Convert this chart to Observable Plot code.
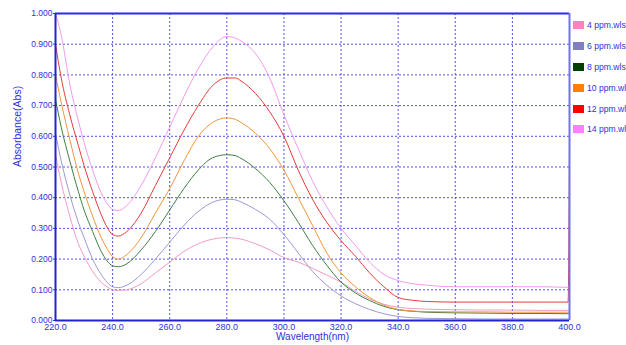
<!DOCTYPE html>
<html>
<head>
<meta charset="utf-8">
<script src="https://cdn.jsdelivr.net/npm/d3@7"></script>
<script src="https://cdn.jsdelivr.net/npm/@observablehq/plot@0.6"></script>
<style>
  html, body { margin: 0; padding: 0; background: #fff; overflow: hidden; }
  #wrap { position: relative; width: 626px; height: 345px; font-family: "Liberation Sans", Arial, sans-serif; }
  #legend { position: absolute; left: 573px; top: 15px; white-space: nowrap; }
  .item { display: flex; align-items: center; height: 20.8px; font-size: 8.6px; color: #3030e0; }
  .sw { width: 11px; height: 8px; margin-right: 3px; }
</style>
</head>
<body>
<div id="wrap"><div id="legend"></div></div>
<script>
// Wavelengths (nm)
const wavelength = [220,222,225,228,230,233,236,238,240,242,245,250,255,260,265,270,275,280,283,285,290,295,300,305,310,315,320,325,330,335,340,345,350,360,370,380,390,399.5,400];

// Absorbance series
const ppm4  = [0.54,0.45,0.34,0.25,0.21,0.16,0.125,0.11,0.10,0.098,0.10,0.12,0.155,0.19,0.225,0.25,0.265,0.27,0.268,0.265,0.25,0.23,0.205,0.19,0.17,0.148,0.125,0.095,0.07,0.053,0.043,0.039,0.037,0.035,0.034,0.034,0.033,0.033,0.033];
const ppm6  = [0.61,0.52,0.41,0.32,0.27,0.20,0.15,0.125,0.11,0.107,0.115,0.15,0.20,0.255,0.31,0.355,0.385,0.395,0.393,0.386,0.362,0.33,0.28,0.22,0.16,0.115,0.08,0.055,0.036,0.022,0.013,0.009,0.007,0.006,0.005,0.005,0.005,0.005,0.005];
const ppm8  = [0.72,0.63,0.52,0.42,0.36,0.29,0.225,0.195,0.178,0.175,0.185,0.23,0.29,0.36,0.43,0.49,0.53,0.54,0.537,0.528,0.495,0.45,0.39,0.32,0.245,0.18,0.125,0.09,0.065,0.046,0.035,0.03,0.027,0.025,0.024,0.023,0.023,0.022,0.022];
const ppm10 = [0.80,0.71,0.59,0.48,0.42,0.34,0.27,0.235,0.208,0.20,0.215,0.27,0.35,0.43,0.52,0.60,0.645,0.66,0.655,0.645,0.61,0.56,0.49,0.40,0.31,0.22,0.155,0.11,0.075,0.05,0.036,0.031,0.029,0.028,0.028,0.027,0.027,0.027,0.027];
const ppm12 = [0.90,0.79,0.67,0.57,0.505,0.42,0.345,0.305,0.28,0.275,0.29,0.35,0.44,0.53,0.62,0.70,0.765,0.79,0.79,0.78,0.74,0.68,0.60,0.49,0.395,0.32,0.26,0.21,0.155,0.11,0.075,0.066,0.062,0.06,0.06,0.06,0.06,0.06,0.56];
const ppm14 = [1.000,0.93,0.77,0.65,0.58,0.49,0.415,0.382,0.362,0.358,0.375,0.44,0.53,0.63,0.73,0.82,0.89,0.925,0.92,0.91,0.87,0.79,0.67,0.56,0.455,0.37,0.30,0.245,0.19,0.15,0.13,0.12,0.115,0.11,0.11,0.11,0.11,0.108,0.108];

const seriesNames  = ["4 ppm.wls","6 ppm.wls","8 ppm.wls","10 ppm.wls","12 ppm.wls","14 ppm.wls"];
const seriesValues = [ppm4, ppm6, ppm8, ppm10, ppm12, ppm14];
const lineColors   = ["#f29ac8","#9a9ad0","#3f7f3f","#f0963a","#e83a3a","#f29af2"];
const swatchColors = ["#ff80c0","#8080c0","#004000","#ff8000","#ff0000","#ff80ff"];

const xTicks = [220,240,260,280,300,320,340,360,380,400];
const yTicks = [0,0.1,0.2,0.3,0.4,0.5,0.6,0.7,0.8,0.9,1.0];

const rows = [];
seriesNames.forEach((name, i) => {
  wavelength.forEach((w, j) => rows.push({name, w, a: seriesValues[i][j]}));
});

const blue = "#3030e0";
const chart = Plot.plot({
  width: 626,
  height: 345,
  marginLeft: 55,
  marginRight: 57,
  marginTop: 13,
  marginBottom: 25,
  style: {fontFamily: '"Liberation Sans", Arial, sans-serif', background: "transparent"},
  x: {domain: [220, 400]},
  y: {domain: [0, 1]},
  color: {domain: seriesNames, range: lineColors},
  marks: [
    Plot.gridX(xTicks.slice(1, -1), {stroke: "#5252ee", strokeOpacity: 1, strokeDasharray: "2,2"}),
    Plot.gridY(yTicks.slice(1, -1), {stroke: "#5252ee", strokeOpacity: 1, strokeDasharray: "2,2"}),
    Plot.line(rows, {x: "w", y: "a", z: "name", stroke: "name", strokeWidth: 1, curve: "monotone-x"}),
    Plot.ruleX([220], {stroke: "#2222d0", strokeWidth: 2}),
    Plot.ruleY([0], {stroke: "#2222d0", strokeWidth: 2}),
    Plot.ruleY([1], {stroke: "#2a2af0", strokeWidth: 2}),
    Plot.ruleX([400], {stroke: "#7272f0", strokeWidth: 2}),
    Plot.axisX(xTicks, {tickFormat: d => d.toFixed(1), fill: blue, fontSize: 9, tickSize: 0, tickPadding: 3, label: null}),
    Plot.axisY(yTicks, {tickFormat: d => d.toFixed(3), fill: blue, stroke: blue, fontSize: 8.5, tickSize: 2, tickPadding: 1, label: null}),
    Plot.text(["Wavelength(nm)"], {frameAnchor: "bottom", dy: 19.5, fill: blue, fontSize: 10}),
    Plot.text(["Absorbance(Abs)"], {frameAnchor: "left", dx: -38, rotate: -90, fill: blue, fontSize: 10.5})
  ]
});
const wrap = document.getElementById("wrap");
wrap.insertBefore(chart, wrap.firstChild);

const legend = document.getElementById("legend");
seriesNames.forEach((name, i) => {
  const it = document.createElement("div");
  it.className = "item";
  it.innerHTML = `<span class="sw" style="background:${swatchColors[i]}"></span><span>${name}</span>`;
  legend.appendChild(it);
});
</script>
</body>
</html>
